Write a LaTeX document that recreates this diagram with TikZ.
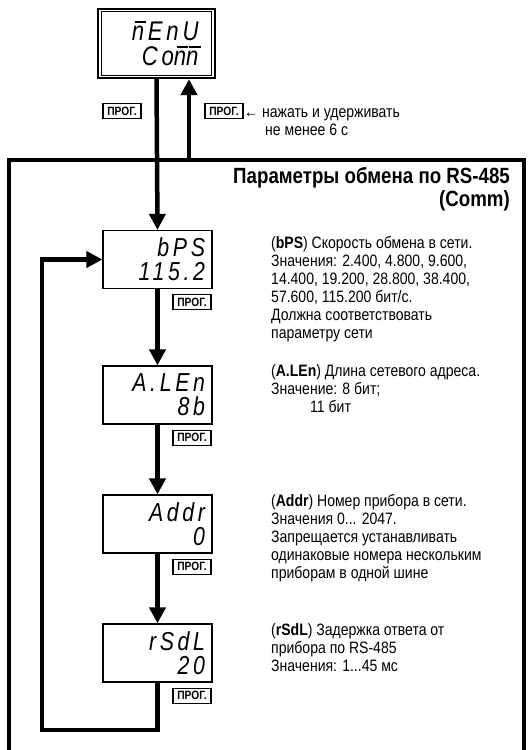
\documentclass[tikz,border=0pt]{standalone}
\usepackage{fontspec}
\setmainfont{Liberation Sans}[FakeStretch=0.85]
\newfontfamily\lcdfont{Liberation Sans}[FakeStretch=0.82,LetterSpace=14]
\usetikzlibrary{arrows.meta}
\newcommand{\segn}{\rlap{\hspace{0.12em}\rule[0.66em]{0.42em}{1.6pt}}n}
\tikzset{>={Triangle[length=16pt,width=16pt]},
  flow/.style={line width=4.5pt,line join=miter},
  disp/.style={draw,line width=1.3pt,minimum width=109pt,minimum height=58pt,text width=95pt,align=right,inner xsep=7pt,
    font=\lcdfont\itshape\fontsize{26}{24}\selectfont},
  prog/.style={draw,line width=1.2pt,minimum width=38pt,minimum height=15pt,inner sep=1pt,font=\bfseries\fontsize{12}{12}\selectfont},
  desc/.style={anchor=north west,inner sep=0pt,align=left,font=\fontsize{16.5}{18}\selectfont}}

\begin{document}
\begin{tikzpicture}[x=1pt,y=-1pt]
\useasboundingbox (0,0) rectangle (529,750);

% ===== menu display and entry =====
\node[disp,minimum width=117pt,minimum height=69pt,text width=84pt,line width=2.2pt,
  font=\lcdfont\itshape\fontsize{27}{25}\selectfont] (menu) at (156.5,43.5) {\segn EnU\\Co\segn\segn};
\draw[line width=0.9pt] ([xshift=4.5pt,yshift=-4pt]menu.north west) rectangle ([xshift=-4.5pt,yshift=4pt]menu.south east);
\node[prog] (pmenu) at (122,111) {ПРОГ.};
\node[prog] (phold) at (224,111) {ПРОГ.};
\node[anchor=base west,inner sep=0pt,font=\fontsize{16.5}{18}\selectfont] (hold1) at (244,117) {← нажать и удерживать};
\node[anchor=base west,inner sep=0pt,font=\fontsize{16.5}{18}\selectfont] (hold2) at (265,135) {не менее 6 с};

% ===== frame of the group =====
\draw[flow] (9,752) -- (9,160) -- (524,160) -- (524,752);
\coordinate (ftop) at (189,160);
\node[anchor=base east,inner sep=0pt,font=\bfseries\fontsize{22}{23}\selectfont] (title1) at (510,183) {Параметры обмена по RS-485};
\node[anchor=base east,inner sep=0pt,font=\bfseries\fontsize{22}{23}\selectfont] (title2) at (510,206) {(Comm)};

% ===== parameter displays =====
\node[disp] (bps) at (157.5,259.5) {bPS\\115.2};
\node[disp] (alen) at (157.5,395) {A.LEn\\8b};
\node[disp] (addr) at (157.5,524) {Addr\\0};
\node[disp] (rsdl) at (157.5,653) {rSdL\\20};
\node[prog,anchor=north east] (pbps) at ([xshift=-1pt,yshift=-5pt]bps.south east) {ПРОГ.};
\node[prog,anchor=north east] (palen) at ([xshift=-1pt,yshift=-5pt]alen.south east) {ПРОГ.};
\node[prog,anchor=north east] (paddr) at ([xshift=-1pt,yshift=-5pt]addr.south east) {ПРОГ.};
\node[prog,anchor=north east] (prsdl) at ([xshift=-1pt,yshift=-5pt]rsdl.south east) {ПРОГ.};

% ===== descriptions =====
\node[desc] (tbps) at (271,236) {(\textbf{bPS}) Скорость обмена в сети.\\Значения: 2.400, 4.800, 9.600,\\14.400, 19.200, 28.800, 38.400,\\57.600, 115.200 бит/с.\\Должна соответствовать\\параметру сети};
\node[desc] (talen) at (271,364) {(\textbf{A.LEn}) Длина сетевого адреса.\\Значение: 8 бит;\\\hspace*{39pt}11 бит};
\node[desc] (taddr) at (271,494) {(\textbf{Addr}) Номер прибора в сети.\\Значения 0... 2047.\\Запрещается устанавливать\\одинаковые номера нескольким\\приборам в одной шине};
\node[desc] (trsdl) at (271,623) {(\textbf{rSdL}) Задержка ответа от\\прибора по RS-485\\Значения: 1...45 мс};

% ===== connectors =====
\coordinate (lpB) at (42,730);
\draw[flow,->] (menu.south) -- (bps.north);
\draw[flow,->] (ftop) -- (ftop |- menu.south);
\draw[flow,->] (bps.south) -- (alen.north);
\draw[flow,->] (alen.south) -- (addr.north);
\draw[flow,->] (addr.south) -- (rsdl.north);
\draw[flow,->] (rsdl.south) |- (lpB) |- (bps.west);

\end{tikzpicture}
\end{document}
